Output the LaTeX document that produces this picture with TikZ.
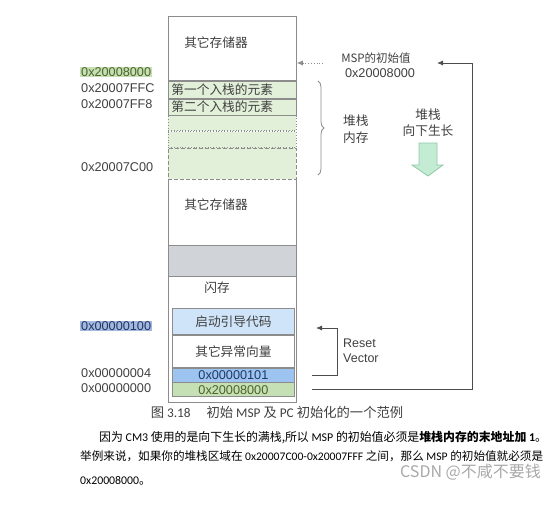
\documentclass[tikz,border=0pt]{standalone}
\usepackage{fontspec}
\setmainfont{Liberation Sans}
\newfontfamily\zh{Noto Sans CJK SC}
\newfontfamily\calib{Carlito}
\usetikzlibrary{positioning, arrows.meta, decorations.pathreplacing}

\definecolor{memline}{HTML}{8C8C8C}
\definecolor{stackfill}{HTML}{E2F0D9}
\definecolor{greenbar}{HTML}{C5E0B4}
\definecolor{bluebar}{HTML}{9DC3F0}
\definecolor{bootfill}{HTML}{CFE4F8}
\definecolor{grayfill}{HTML}{D0D4D8}
\definecolor{labelblue}{HTML}{A4B8E0}
\definecolor{mint}{HTML}{C4EBD3}
\definecolor{mintline}{HTML}{8FC9A8}
\definecolor{txt}{HTML}{404040}
\definecolor{darkolive}{HTML}{4F6228}
\definecolor{darkblue}{HTML}{1F3864}
\definecolor{marca}{HTML}{A8A8A8}

\newcommand{\zhsz}{\zh\fontsize{12.7}{15}\selectfont}
\newcommand{\hexsz}{\fontsize{12.7}{15}\selectfont}

\begin{document}
\begin{tikzpicture}[x=1pt, y=-1pt, >={Latex[length=6pt, width=5pt]},
    memsec/.style={draw=memline, line width=0.8pt, fill=white, text width=122pt,
        inner xsep=3pt, inner ysep=0pt, align=left, anchor=north west, font=\zhsz, text=txt},
    stackrow/.style={memsec, fill=stackfill},
    vecrow/.style={memsec, text width=116pt, align=center, font=\hexsz},
    addr/.style={anchor=west, inner xsep=1pt, inner ysep=1pt, font=\hexsz, text=txt},
    note/.style={font=\zhsz, text=txt, inner sep=0pt, align=left},
    parline/.style={anchor=west, inner sep=0pt, font=\zh\fontsize{#1}{15}\selectfont}]

    \useasboundingbox (0,0) rectangle (554,511);

    % Columna de memoria
    \node[memsec, minimum height=64pt] (memtop) at (168,16) {};
    \node[stackrow, minimum height=17pt] (row1) [below=0pt of memtop] {第一个入栈的元素};
    \node[stackrow, minimum height=16pt] (row2) [below=0pt of row1] {第二个入栈的元素};
    \node[stackrow, minimum height=15pt, dotted] (row3) [below=0pt of row2] {};
    \node[stackrow, minimum height=16pt, dotted] (row4) [below=0pt of row3] {};
    \node[stackrow, minimum height=31pt, dash pattern=on 4pt off 2pt] (row5) [below=0pt of row4] {};
    \node[memsec, draw=none, minimum height=64pt] (memmid) [below=0pt of row5] {};
    \draw[memline, line width=0.8pt] (memmid.north west) -- (memmid.south west)
        (memmid.north east) -- (memmid.south east);
    \node[memsec, fill=grayfill, minimum height=31pt] (gap) [below=0pt of memmid] {};
    \node[memsec, minimum height=126pt] (flash) [below=0pt of gap] {};

    % Textos de la columna
    \node[note] (toptxt) at (216,43) {其它存储器};
    \node[note] (midtxt) at (216,205) {其它存储器};
    \node[note] (flashtxt) at (217,288) {闪存};

    % Tabla de vectores dentro del flash
    \node[vecrow, fill=bootfill, minimum height=26pt, font=\zhsz] (boot) at (172,308) {启动引导代码};
    \node[vecrow, minimum height=32pt, font=\zhsz] (vecs) [below=0pt of boot] {其它异常向量};
    \node[vecrow, fill=bluebar, minimum height=14pt, text=darkblue] (vec1) [below=0pt of vecs] {0x00000101};
    \node[vecrow, fill=greenbar, minimum height=14pt, text=darkolive] (vec0) [below=0pt of vec1] {0x20008000};

    % Direcciones a la izquierda
    \node[addr, fill=greenbar, text=darkolive] (a8000) at (80,72) {0x20008000};
    \node[addr] (a7ffc) at (80,88) {0x20007FFC};
    \node[addr] (a7ff8) at (80,104) {0x20007FF8};
    \node[addr] (a7c00) at (80,167) {0x20007C00};
    \node[addr, fill=labelblue, text=darkblue] (a0100) at (80,326) {0x00000100};
    \node[addr] (a0004) at (80,373) {0x00000004};
    \node[addr] (a0000) at (80,388) {0x00000000};

    % Valor inicial del MSP
    \node[note, font=\zh\fontsize{11.5}{14}\selectfont] (msp) at (376,58) {MSP的初始值};
    \node[note, font=\hexsz] (mspval) at (380,73) {0x20008000};
    \coordinate (mspin) at (323,63);
    \draw[memline, dotted, line width=0.8pt, ->] (mspin) -- (mspin -| memtop.east);
    \coordinate (spstart) at (312,389);
    \coordinate (mspend) at (437,63);
    \draw[black!70, line width=0.8pt, ->] (spstart) -- (472,389) |- (mspend);

    % Reset Vector
    \coordinate (rvstart) at (312,375);
    \coordinate (rvend) at (316,328);
    \draw[black!70, line width=0.8pt, ->] (rvstart) -- ++(25,0) |- (rvend);
    \node[note, font=\fontsize{12.5}{15}\selectfont, anchor=west] (reset) at (343,351) {Reset\\Vector};

    % Llave de la zona de pila
    \coordinate (bracetop) at (318,81);
    \coordinate (bracebot) at (318,175);
    \draw[memline, line width=0.8pt, decorate, decoration={brace, amplitude=6pt}] (bracetop) -- (bracebot);
    \node[note, anchor=west, font=\zh\fontsize{12.7}{17}\selectfont] (stackmem) at (343,129) {堆栈\\内存};

    % Crecimiento hacia abajo
    \node[note, align=center, font=\zh\fontsize{12.7}{16}\selectfont] (grow) at (428,123) {堆栈\\向下生长};
    \draw[mintline, fill=mint, line width=0.8pt] (419,143) -- (437,143) -- (437,165) -- (443,165)
        -- (428,176) -- (412,165) -- (419,165) -- cycle;

    % Pie de figura y texto
    \node[text=txt, font=\zh\fontsize{13.3}{15}\selectfont, inner sep=0pt] (caption) at (277,412)
        {图 {\calib 3.18}\hspace{1.2em}初始 {\calib MSP} 及 {\calib PC} 初始化的一个范例};
    \node[parline=11.9] (para1) at (99,438)
        {因为 {\calib CM3} 使用的是向下生长的满栈,所以 {\calib MSP} 的初始值必须是{\bfseries 堆栈内存的末地址加 {\calib 1}}。};
    \node[parline=11.6] (para2) at (80,456)
        {举例来说，如果你的堆栈区域在 {\calib 0x20007C00-0x20007FFF} 之间，那么 {\calib MSP} 的初始值就必须是};
    \node[parline=11.8] (para3) at (80,481)
        {{\calib 0x20008000}。};
    \node[anchor=west, font=\zh\fontsize{16}{18}\selectfont, text=marca, inner sep=0pt] (csdn) at (400,472)
        {CSDN @不咸不要钱};
\end{tikzpicture}
\end{document}
